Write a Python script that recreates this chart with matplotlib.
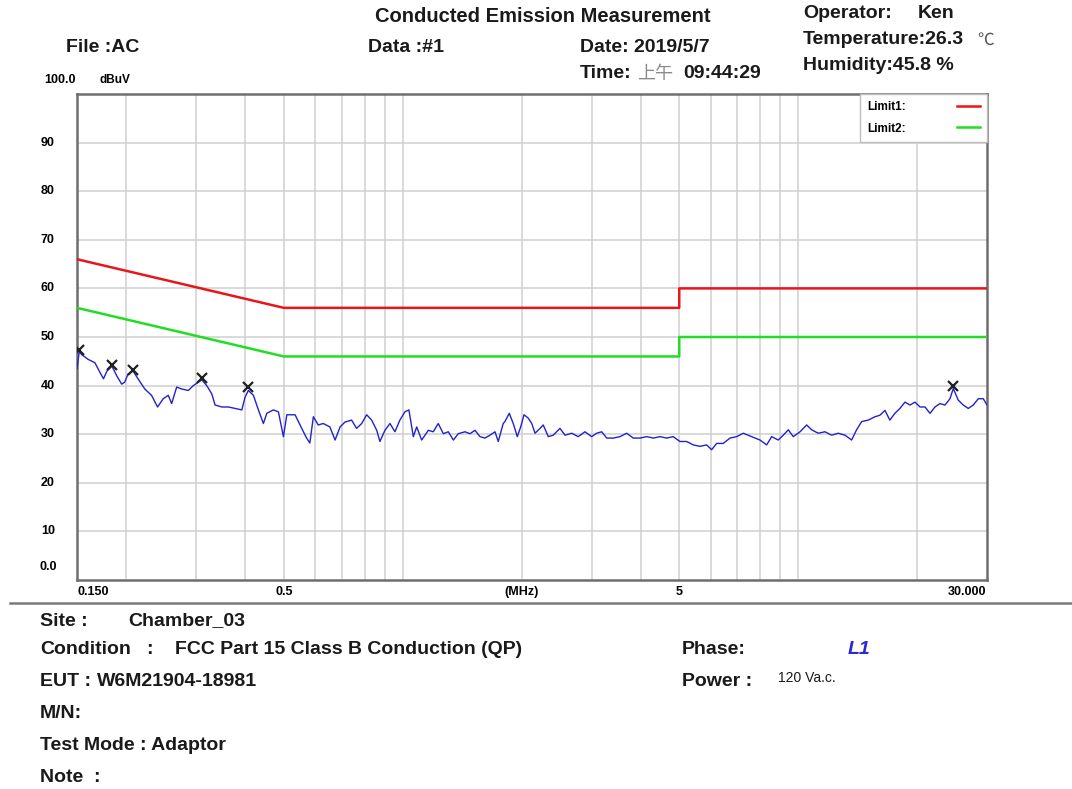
import matplotlib
matplotlib.use("Agg")
import matplotlib.pyplot as plt
from matplotlib.ticker import FixedLocator, NullFormatter
from matplotlib.lines import Line2D

# --- data ---
# emission trace (MHz, dBuV)
trace_freq = [0.150, 0.152, 0.154, 0.160, 0.1665, 0.1715, 0.175, 0.1786, 0.1838, 0.1891,
              0.1946, 0.198, 0.2019, 0.2079, 0.214, 0.2226, 0.2315, 0.2398, 0.2478, 0.2552,
              0.2603, 0.268, 0.276, 0.2868, 0.2953, 0.304, 0.3101, 0.3193, 0.3288, 0.3352,
              0.3486, 0.3623, 0.3766, 0.3916, 0.399, 0.4068, 0.419, 0.4313, 0.444, 0.4529,
              0.4706, 0.4846, 0.4989, 0.509, 0.534, 0.555, 0.571, 0.582, 0.594, 0.611,
              0.629, 0.654, 0.674, 0.694, 0.714, 0.742, 0.764, 0.787, 0.810, 0.834,
              0.859, 0.875, 0.901, 0.928, 0.955, 0.983, 1.012, 1.036, 1.063, 1.084,
              1.116, 1.160, 1.194, 1.229, 1.266, 1.303, 1.342, 1.381, 1.436, 1.478,
              1.522, 1.567, 1.613, 1.661, 1.710, 1.743, 1.794, 1.812, 1.858, 1.902,
              1.947, 1.986, 2.025, 2.076, 2.118, 2.159, 2.223, 2.265, 2.332, 2.401,
              2.496, 2.571, 2.673, 2.777, 2.887, 3.002, 3.091, 3.183, 3.278, 3.405,
              3.541, 3.682, 3.826, 3.978, 4.136, 4.299, 4.469, 4.645, 4.827, 5.020,
              5.219, 5.424, 5.640, 5.864, 6.037, 6.215, 6.459, 6.717, 6.984, 7.257,
              7.623, 8.000, 8.317, 8.564, 8.898, 9.162, 9.432, 9.712, 10.10, 10.50,
              10.81, 11.23, 11.68, 12.14, 12.62, 13.12, 13.64, 14.04, 14.46, 15.03,
              15.63, 16.08, 16.56, 17.04, 17.55, 18.07, 18.61, 19.16, 19.73, 20.31,
              20.91, 21.53, 22.16, 22.81, 23.49, 24.18, 24.65, 25.38, 26.13, 26.90,
              27.69, 28.51, 29.36, 30.0]
trace_level = [43.5, 47.0, 46.4, 45.4, 44.7, 42.7, 41.4, 43.0, 44.0, 42.0,
               40.3, 40.7, 42.4, 43.0, 41.4, 39.3, 38.0, 35.6, 37.3, 38.0,
               36.3, 39.7, 39.3, 39.0, 40.0, 40.7, 41.2, 40.0, 38.3, 36.0,
               35.6, 35.6, 35.3, 35.0, 37.6, 39.0, 38.0, 35.0, 32.2, 34.3,
               35.0, 34.6, 29.5, 34.0, 34.0, 31.2, 29.2, 28.2, 33.6, 31.9,
               32.2, 31.5, 28.8, 31.5, 32.5, 32.9, 31.2, 32.2, 34.0, 32.9,
               30.8, 28.5, 30.8, 32.2, 30.5, 32.9, 34.6, 35.0, 29.5, 31.5,
               28.8, 30.8, 30.5, 32.2, 30.1, 30.5, 28.8, 30.1, 30.5, 30.1,
               30.8, 29.5, 29.2, 29.8, 30.5, 28.5, 32.2, 32.6, 34.3, 32.2,
               29.5, 31.5, 34.0, 33.3, 32.2, 30.2, 31.2, 31.9, 29.5, 29.8,
               31.2, 29.8, 30.2, 29.5, 30.5, 29.5, 30.2, 30.5, 29.2, 29.2,
               29.5, 30.2, 29.2, 29.2, 29.5, 29.2, 29.5, 29.2, 29.5, 28.5,
               28.5, 27.8, 27.5, 27.8, 26.8, 28.1, 28.1, 29.2, 29.5, 30.2,
               29.5, 28.8, 27.8, 29.5, 28.8, 29.8, 30.9, 29.5, 30.5, 31.9,
               30.9, 30.2, 30.5, 29.8, 30.2, 29.8, 28.8, 30.9, 32.6, 32.9,
               33.6, 33.9, 34.9, 32.9, 34.3, 35.3, 36.6, 36.0, 36.6, 35.6,
               35.6, 34.3, 35.6, 36.3, 36.0, 37.3, 39.4, 37.0, 36.0, 35.3,
               36.0, 37.3, 37.3, 36.0]

# peak markers
peak_freq = [0.152, 0.184, 0.208, 0.310, 0.406, 24.65]
peak_level = [47.4, 44.2, 43.2, 41.5, 39.7, 40.0]

# FCC Part 15 class B limits
limit_freq = [0.15, 0.5, 5.0, 5.0, 30.0]
limit1 = [66, 56, 56, 60, 60]
limit2 = [56, 46, 46, 50, 50]

y_ticks = [10, 20, 30, 40, 50, 60, 70, 80, 90]
x_labels = [(0.5, "0.5"), (2.0, "(MHz)"), (5.0, "5")]

W, H = 1072, 789
FONT = ["Liberation Sans", "DejaVu Sans"]
CJK = ["Noto Sans CJK TC", "DejaVu Sans"]
TICK = 9

plt.rcParams["font.family"] = FONT

fig = plt.figure(figsize=(W / 100, H / 100), dpi=100)
ax = fig.add_axes([77 / W, 1 - 580 / H, (987 - 77) / W, (580 - 94) / H])

ax.set_xscale("log")
ax.set_xlim(0.15, 30)
ax.set_ylim(0, 100)

# grid
grid_x = [0.2, 0.3, 0.4, 0.5, 0.6, 0.7, 0.8, 0.9, 1, 2, 3, 4, 5, 6, 7, 8, 9, 10, 20]
for gx in grid_x:
    ax.axvline(gx, color="#cfcfcf", lw=1.1, zorder=0)
for gy in y_ticks:
    ax.axhline(gy, color="#cfcfcf", lw=1.1, zorder=0)

ax.xaxis.set_major_locator(FixedLocator([]))
ax.xaxis.set_minor_locator(FixedLocator([]))
ax.xaxis.set_minor_formatter(NullFormatter())
ax.set_yticks([])
for s in ax.spines.values():
    s.set_color("#6e6e6e")
    s.set_linewidth(1.8)

# lines
ax.plot(limit_freq, limit1, color="#e8161b", lw=1.8, zorder=3)
ax.plot(limit_freq, limit2, color="#22dd22", lw=1.8, zorder=3)
ax.plot(trace_freq, trace_level, color="#2222cc", lw=1.0, zorder=4)
ax.plot(peak_freq, peak_level, "x", color="#202020", ms=7, mew=1.6, zorder=5)

# legend
handles = [Line2D([], [], color="#e8161b", lw=1.8), Line2D([], [], color="#22dd22", lw=1.8)]
leg = ax.legend(handles, ["Limit1:", "Limit2:"], loc="upper right", markerfirst=False,
                fancybox=False, edgecolor="#bdbdbd", framealpha=1, borderaxespad=0,
                handlelength=1.9, handletextpad=4.4, labelspacing=0.8, borderpad=0.6,
                prop={"weight": "bold", "size": 8.5})
leg.get_frame().set_linewidth(1.0)

# y labels
for v in y_ticks:
    ax.text(-0.032, v, str(v), transform=ax.get_yaxis_transform(), ha="center", va="center",
            fontsize=TICK, fontweight="bold")
ax.text(-0.032, 1.5, "0.0", transform=ax.get_yaxis_transform(), ha="center", va="bottom",
        fontsize=TICK, fontweight="bold")
fig.text(60 / W, 1 - 80 / H, "100.0", ha="center", va="center", fontsize=TICK,
         fontweight="bold")
fig.text(100 / W, 1 - 80 / H, "dBuV", ha="left", va="center", fontsize=8.5,
         fontweight="bold")

# x labels
lab_y = 1 - 592 / H
fig.text(78 / W, lab_y, "0.150", ha="left", va="center", fontsize=TICK, fontweight="bold")
fig.text(986 / W, lab_y, "30.000", ha="right", va="center", fontsize=TICK, fontweight="bold")
for f, s in x_labels:
    ax.text(f, -0.025, s, transform=ax.get_xaxis_transform(), ha="center", va="center",
            fontsize=TICK, fontweight="bold")

# separator line
fig.add_artist(Line2D([10 / W, 1.0], [1 - 603 / H, 1 - 603 / H], color="#7a7a7a", lw=1.8))

# header / footer text, positions in pixels from top-left
def t(x, y, s, **kw):
    kw.setdefault("fontsize", 14)
    kw.setdefault("fontweight", "bold")
    kw.setdefault("color", "#1a1a1a")
    fig.text(x / W, 1 - y / H, s, va="center", **kw)

t(543, 17, "Conducted Emission Measurement", ha="center", fontsize=14.5)
t(66, 48, "File :AC")
t(368, 48, "Data :#1")
t(580, 48, "Date: 2019/5/7")
t(580, 74, "Time:")
t(637, 74, "上午", family=CJK, fontweight="normal", color="#8a8a8a", fontsize=13)
t(683, 74, "09:44:29")
t(803, 13, "Operator:")
t(918, 13, "Ken")
t(803, 40, "Temperature:26.3")
t(977, 40, "℃", family=CJK, fontweight="normal", color="#555555", fontsize=12)
t(803, 66, "Humidity:45.8 %")

t(40, 621, "Site :")
t(128, 621, "Chamber_03")
t(40, 650, "Condition")
t(146, 650, ":")
t(175, 650, "FCC Part 15 Class B Conduction (QP)")
t(682, 650, "Phase:")
t(848, 650, "L1", color="#2a2ad0", fontstyle="italic")
t(40, 682, "EUT :")
t(97, 682, "W6M21904-18981")
t(682, 682, "Power :")
t(778, 678, "120 Va.c.", fontweight="normal", fontsize=10)
t(40, 714, "M/N:")
t(40, 746, "Test Mode : Adaptor")
t(40, 778, "Note  :")

fig.savefig("out.png", dpi=100)
